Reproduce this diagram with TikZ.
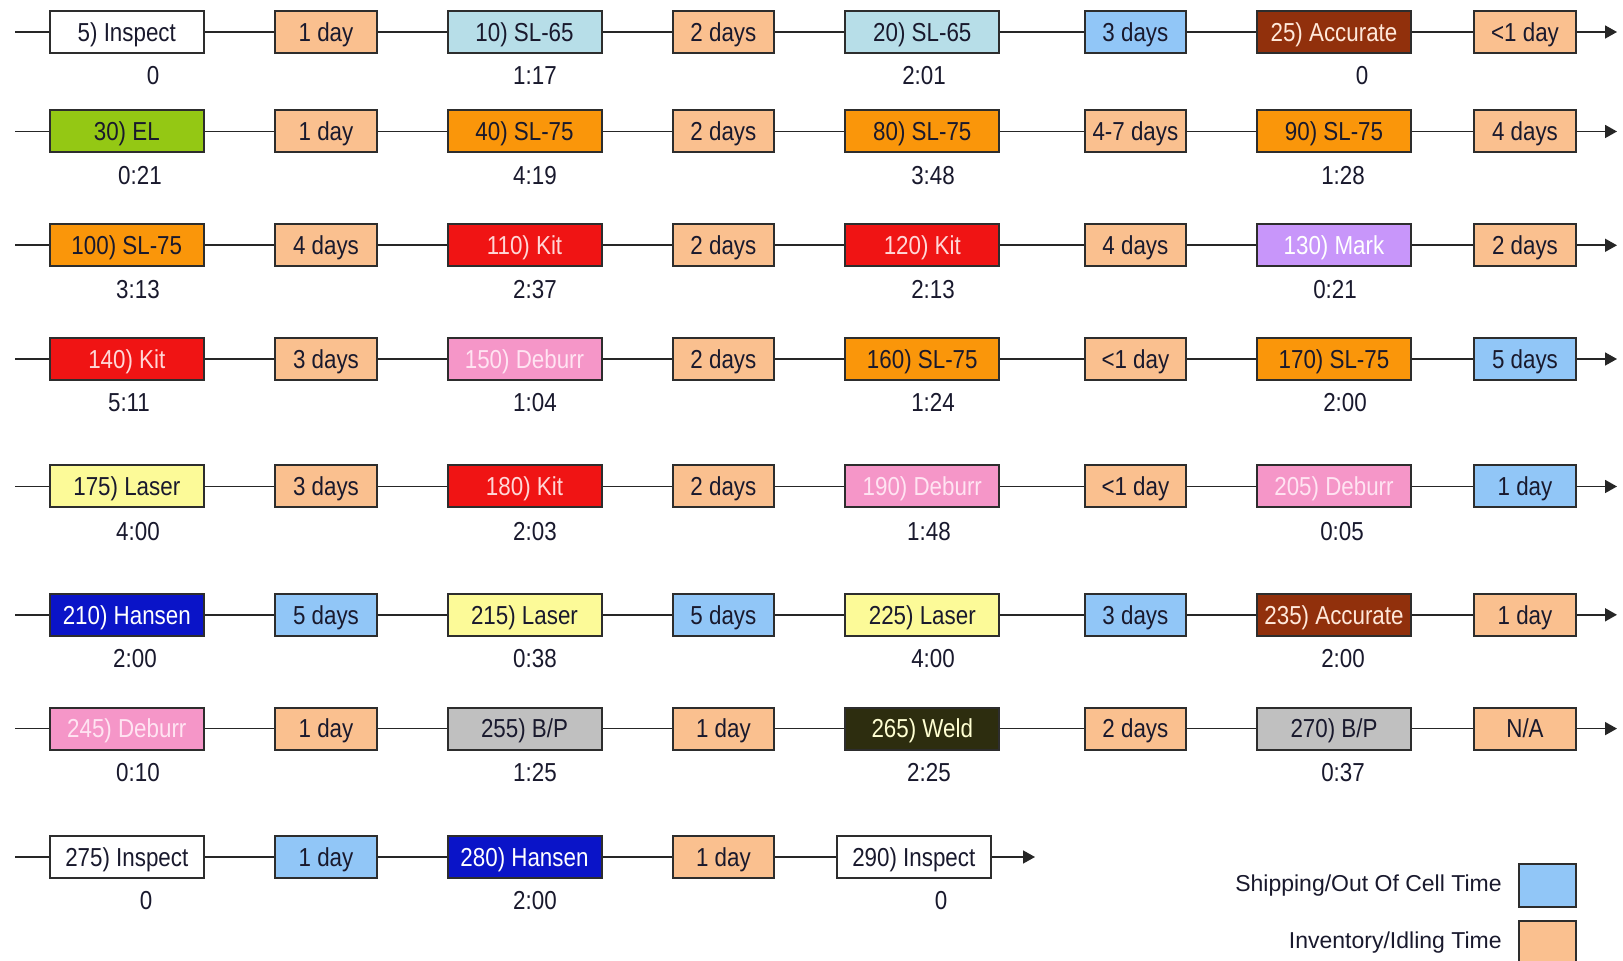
\documentclass[tikz,border=0pt]{standalone}
\usepackage{fontspec}
\setmainfont{Liberation Sans}
\newfontfamily\cellfont[FakeStretch=0.86]{Liberation Sans}
\usetikzlibrary{arrows.meta}
\pgfdeclarelayer{paper}
\pgfdeclarelayer{wires}
\pgfsetlayers{paper,wires,main}

% fills
\definecolor{idlefill}{RGB}{250,192,143}
\definecolor{shipfill}{RGB}{145,198,247}
\definecolor{slsffill}{RGB}{183,222,232}
\definecolor{accfill}{RGB}{145,48,12}
\definecolor{elfill}{RGB}{148,200,20}
\definecolor{slsvfill}{RGB}{250,150,10}
\definecolor{kitfill}{RGB}{240,20,20}
\definecolor{markfill}{RGB}{200,150,250}
\definecolor{deburrfill}{RGB}{245,150,200}
\definecolor{laserfill}{RGB}{252,250,152}
\definecolor{hansenfill}{RGB}{10,20,200}
\definecolor{bpfill}{RGB}{192,192,192}
\definecolor{weldfill}{RGB}{45,45,15}
% inks
\definecolor{ink}{RGB}{25,25,45}
\definecolor{edge}{RGB}{45,45,45}
\definecolor{kitink}{RGB}{255,215,215}
\definecolor{deburrink}{RGB}{255,228,242}
\definecolor{accink}{RGB}{255,232,218}
\definecolor{weldink}{RGB}{255,255,210}

\tikzset{
  cell/.style={draw=edge, line width=1pt, inner sep=0pt, minimum height=21pt,
    text height=9.3pt, text depth=0pt,
    font=\cellfont\fontsize{13}{14}\selectfont, text=ink},
  opbox/.style={cell, minimum width=77pt},
  waitbox/.style={cell, minimum width=50.75pt},
  idle/.style={waitbox, fill=idlefill},
  ship/.style={waitbox, fill=shipfill},
  inspect/.style={opbox, fill=white},
  slsf/.style={opbox, fill=slsffill},
  accurate/.style={opbox, fill=accfill, text=accink},
  el/.style={opbox, fill=elfill},
  slsv/.style={opbox, fill=slsvfill},
  kit/.style={opbox, fill=kitfill, text=kitink},
  markop/.style={opbox, fill=markfill, text=white},
  deburr/.style={opbox, fill=deburrfill, text=deburrink},
  laser/.style={opbox, fill=laserfill},
  hansen/.style={opbox, fill=hansenfill, text=white},
  bp/.style={opbox, fill=bpfill},
  weld/.style={opbox, fill=weldfill, text=weldink},
  runtime/.style={font=\cellfont\fontsize{13}{14}\selectfont, text=ink, inner sep=0pt,
    text height=9.3pt, text depth=0pt},
  link/.style={draw=black!85, line width=0.85pt},
  flowend/.style={link, -{Triangle[length=6pt,width=6.5pt]}},
  legendtext/.style={font=\fontsize{11.5}{13}\selectfont, text=ink, anchor=east, inner sep=0pt},
  swatch/.style={draw=edge, line width=1pt}
}

\begin{document}
\begin{tikzpicture}[x=0.5pt, y=-0.5pt]
\useasboundingbox (0,0) rectangle (1623,961);
\begin{pgfonlayer}{paper}
  \fill[white] (0,0) rectangle (1623,961);
\end{pgfonlayer}

% ---------- row 1 ----------
\coordinate (a1) at (15,32);
\node[inspect]  (s5)   at (126.8,32) {5) Inspect};
\node[idle]     (w1a)  at (326,32)   {1 day};
\node[slsf]     (s10)  at (524.5,32) {10) SL-65};
\node[idle]     (w1b)  at (723.4,32) {2 days};
\node[slsf]     (s20)  at (922.3,32) {20) SL-65};
\node[ship]     (w1c)  at (1135.4,32) {3 days};
\node[accurate] (s25)  at (1334,32)  {25) Accurate};
\node[idle]     (w1d)  at (1525,32)  {<1 day};
\coordinate (z1) at (1617,32);
\node[runtime] (t5)  at (153,75.5)  {0};
\node[runtime] (t10) at (535,75.5)  {1:17};
\node[runtime] (t20) at (924,75.5)  {2:01};
\node[runtime] (t25) at (1362,75.5) {0};

% ---------- row 2 ----------
\coordinate (a2) at (15,131.5);
\node[el]    (s30) at (126.8,131.5) {30) EL};
\node[idle]  (w2a) at (326,131.5)   {1 day};
\node[slsv]  (s40) at (524.5,131.5) {40) SL-75};
\node[idle]  (w2b) at (723.4,131.5) {2 days};
\node[slsv]  (s80) at (922.3,131.5) {80) SL-75};
\node[idle]  (w2c) at (1135.4,131.5) {4-7 days};
\node[slsv]  (s90) at (1334,131.5)  {90) SL-75};
\node[idle]  (w2d) at (1525,131.5)  {4 days};
\coordinate (z2) at (1617,131.5);
\node[runtime] (t30) at (140,175)  {0:21};
\node[runtime] (t40) at (535,175)  {4:19};
\node[runtime] (t80) at (933,175)  {3:48};
\node[runtime] (t90) at (1343,175) {1:28};

% ---------- row 3 ----------
\coordinate (a3) at (15,245.3);
\node[slsv]   (s100) at (126.8,245.3) {100) SL-75};
\node[idle]   (w3a)  at (326,245.3)   {4 days};
\node[kit]    (s110) at (524.5,245.3) {110) Kit};
\node[idle]   (w3b)  at (723.4,245.3) {2 days};
\node[kit]    (s120) at (922.3,245.3) {120) Kit};
\node[idle]   (w3c)  at (1135.4,245.3) {4 days};
\node[markop] (s130) at (1334,245.3)  {130) Mark};
\node[idle]   (w3d)  at (1525,245.3)  {2 days};
\coordinate (z3) at (1617,245.3);
\node[runtime] (t100) at (138,288.8)  {3:13};
\node[runtime] (t110) at (535,288.8)  {2:37};
\node[runtime] (t120) at (933,288.8)  {2:13};
\node[runtime] (t130) at (1335,288.8) {0:21};

% ---------- row 4 ----------
\coordinate (a4) at (15,359);
\node[kit]    (s140) at (126.8,359) {140) Kit};
\node[idle]   (w4a)  at (326,359)   {3 days};
\node[deburr] (s150) at (524.5,359) {150) Deburr};
\node[idle]   (w4b)  at (723.4,359) {2 days};
\node[slsv]   (s160) at (922.3,359) {160) SL-75};
\node[idle]   (w4c)  at (1135.4,359) {<1 day};
\node[slsv]   (s170) at (1334,359)  {170) SL-75};
\node[ship]   (w4d)  at (1525,359)  {5 days};
\coordinate (z4) at (1617,359);
\node[runtime] (t140) at (129,402.6)  {5:11};
\node[runtime] (t150) at (535,402.6)  {1:04};
\node[runtime] (t160) at (933,402.6)  {1:24};
\node[runtime] (t170) at (1345,402.6) {2:00};

% ---------- row 5 ----------
\coordinate (a5) at (15,486.5);
\node[laser]  (s175) at (126.8,486.5) {175) Laser};
\node[idle]   (w5a)  at (326,486.5)   {3 days};
\node[kit]    (s180) at (524.5,486.5) {180) Kit};
\node[idle]   (w5b)  at (723.4,486.5) {2 days};
\node[deburr] (s190) at (922.3,486.5) {190) Deburr};
\node[idle]   (w5c)  at (1135.4,486.5) {<1 day};
\node[deburr] (s205) at (1334,486.5)  {205) Deburr};
\node[ship]   (w5d)  at (1525,486.5)  {1 day};
\coordinate (z5) at (1617,486.5);
\node[runtime] (t175) at (138,531)  {4:00};
\node[runtime] (t180) at (535,531)  {2:03};
\node[runtime] (t190) at (929,531)  {1:48};
\node[runtime] (t205) at (1342,531) {0:05};

% ---------- row 6 ----------
\coordinate (a6) at (15,614.8);
\node[hansen]   (s210) at (126.8,614.8) {210) Hansen};
\node[ship]     (w6a)  at (326,614.8)   {5 days};
\node[laser]    (s215) at (524.5,614.8) {215) Laser};
\node[ship]     (w6b)  at (723.4,614.8) {5 days};
\node[laser]    (s225) at (922.3,614.8) {225) Laser};
\node[ship]     (w6c)  at (1135.4,614.8) {3 days};
\node[accurate] (s235) at (1334,614.8)  {235) Accurate};
\node[idle]     (w6d)  at (1525,614.8)  {1 day};
\coordinate (z6) at (1617,614.8);
\node[runtime] (t210) at (135,658)  {2:00};
\node[runtime] (t215) at (535,658)  {0:38};
\node[runtime] (t225) at (933,658)  {4:00};
\node[runtime] (t235) at (1343,658) {2:00};

% ---------- row 7 ----------
\coordinate (a7) at (15,728.6);
\node[deburr] (s245) at (126.8,728.6) {245) Deburr};
\node[idle]   (w7a)  at (326,728.6)   {1 day};
\node[bp]     (s255) at (524.5,728.6) {255) B/P};
\node[idle]   (w7b)  at (723.4,728.6) {1 day};
\node[weld]   (s265) at (922.3,728.6) {265) Weld};
\node[idle]   (w7c)  at (1135.4,728.6) {2 days};
\node[bp]     (s270) at (1334,728.6)  {270) B/P};
\node[idle]   (w7d)  at (1525,728.6)  {N/A};
\coordinate (z7) at (1617,728.6);
\node[runtime] (t245) at (138,772)  {0:10};
\node[runtime] (t255) at (535,772)  {1:25};
\node[runtime] (t265) at (929,772)  {2:25};
\node[runtime] (t270) at (1343,772) {0:37};

% ---------- row 8 ----------
\coordinate (a8) at (15,857);
\node[inspect] (s275) at (126.8,857) {275) Inspect};
\node[ship]    (w8a)  at (326,857)   {1 day};
\node[hansen]  (s280) at (524.5,857) {280) Hansen};
\node[idle]    (w8b)  at (723.4,857) {1 day};
\node[inspect] (s290) at (913.8,857) {290) Inspect};
\coordinate (z8) at (1035,857);
\node[runtime] (t275) at (146,900.5) {0};
\node[runtime] (t280) at (535,900.5) {2:00};
\node[runtime] (t290) at (941,900.5) {0};

% ---------- legend ----------
\node[legendtext] (lship) at (1502,886) {Shipping/Out Of Cell Time};
\node[legendtext] (lidle) at (1502,943) {Inventory/Idling Time};
\draw[swatch, fill=shipfill] (1519,864) rectangle (1576,907);
\draw[swatch, fill=idlefill] (1519,921) rectangle (1576,968);

% ---------- flow lines ----------
\begin{pgfonlayer}{wires}
\draw[link] (a1) -- (s5) -- (w1a) -- (s10) -- (w1b) -- (s20) -- (w1c) -- (s25) -- (w1d);
\draw[flowend] (w1d) -- (z1);
\draw[link] (a2) -- (s30) -- (w2a) -- (s40) -- (w2b) -- (s80) -- (w2c) -- (s90) -- (w2d);
\draw[flowend] (w2d) -- (z2);
\draw[link] (a3) -- (s100) -- (w3a) -- (s110) -- (w3b) -- (s120) -- (w3c) -- (s130) -- (w3d);
\draw[flowend] (w3d) -- (z3);
\draw[link] (a4) -- (s140) -- (w4a) -- (s150) -- (w4b) -- (s160) -- (w4c) -- (s170) -- (w4d);
\draw[flowend] (w4d) -- (z4);
\draw[link] (a5) -- (s175) -- (w5a) -- (s180) -- (w5b) -- (s190) -- (w5c) -- (s205) -- (w5d);
\draw[flowend] (w5d) -- (z5);
\draw[link] (a6) -- (s210) -- (w6a) -- (s215) -- (w6b) -- (s225) -- (w6c) -- (s235) -- (w6d);
\draw[flowend] (w6d) -- (z6);
\draw[link] (a7) -- (s245) -- (w7a) -- (s255) -- (w7b) -- (s265) -- (w7c) -- (s270) -- (w7d);
\draw[flowend] (w7d) -- (z7);
\draw[link] (a8) -- (s275) -- (w8a) -- (s280) -- (w8b) -- (s290);
\draw[flowend] (s290) -- (z8);
\end{pgfonlayer}
\end{tikzpicture}
\end{document}
